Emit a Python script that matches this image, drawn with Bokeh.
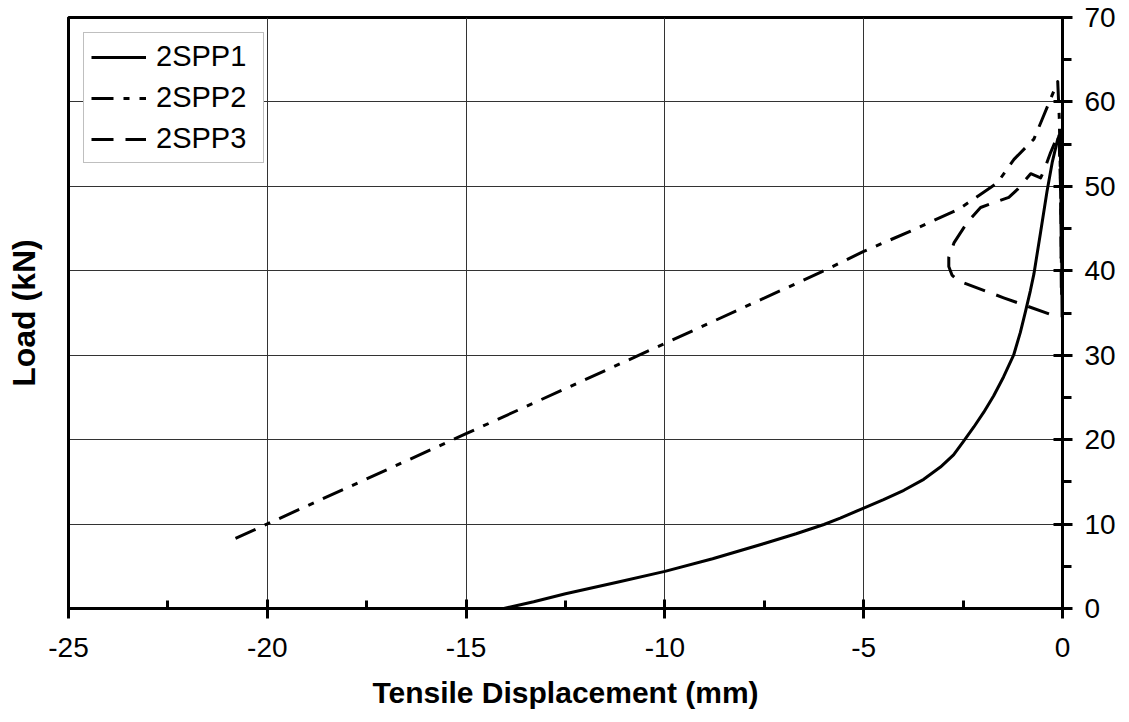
from bokeh.plotting import figure
from bokeh.models import (LinearAxis, FixedTicker, SingleIntervalTicker, Legend,
                          LegendItem, CustomJSTickFormatter)
from bokeh.embed import file_html
from bokeh.resources import INLINE

# Load vs. tensile displacement for the three 2SPP specimens
spp1_disp = [-14.05, -13.3, -12.5, -11.2, -10.0, -8.8, -7.5, -6.7, -6.0, -5.59, -5.0,
             -4.5, -3.99, -3.49, -3.07, -2.74, -2.49, -2.23, -1.98, -1.73, -1.48,
             -1.23, -1.06, -0.93, -0.81, -0.72, -0.55, -0.39, -0.26, -0.12,
             -0.06, -0.04, -0.02, -0.01]
spp1_load = [0.0, 0.8, 1.75, 3.1, 4.4, 5.9, 7.7, 8.85, 9.95, 10.7, 11.9,
             12.9, 14.0, 15.3, 16.75, 18.2, 19.8, 21.5, 23.25, 25.2, 27.45,
             30.0, 32.7, 35.2, 37.6, 39.6, 44.6, 49.4, 52.8, 55.6,
             56.1, 50.0, 42.0, 34.5]

spp2_disp = [-20.8, -15.0, -10.0, -6.09, -5.0, -3.82, -2.61, -1.64, -1.22, -0.72,
             -0.55, -0.12, -0.08, -0.04, -0.02]
spp2_load = [8.3, 20.7, 31.4, 39.8, 42.3, 44.7, 47.3, 50.4, 53.2, 55.6,
             57.5, 62.4, 58.0, 48.0, 36.0]

spp3_disp = [-0.34, -1.48, -2.61, -2.78, -2.86, -2.86, -2.73, -2.40, -2.06, -1.35,
             -1.14, -0.80, -0.55, -0.47, -0.30, -0.13, -0.09, -0.05, -0.03]
spp3_load = [34.9, 36.8, 38.8, 39.5, 40.5, 41.6, 43.3, 45.7, 47.5, 48.7,
             49.6, 51.5, 51.0, 51.8, 54.0, 55.9, 56.3, 50.0, 38.0]

FONT = "Liberation Sans"

p = figure(frame_width=994, frame_height=591, x_range=(-25, 0), y_range=(0, 70),
           y_axis_location="right", output_backend="svg", toolbar_location=None,
           min_border_left=68, min_border_right=67, min_border_top=17,
           min_border_bottom=114, background_fill_color="white",
           border_fill_color="white")

p.outline_line_color = "black"
p.outline_line_width = 3

# grid
p.xgrid.grid_line_color = "#333333"
p.ygrid.grid_line_color = "#333333"
p.xgrid.grid_line_width = 1
p.ygrid.grid_line_width = 1

plain_minus = CustomJSTickFormatter(code="return tick.toString();")

# bottom axis
xax = p.xaxis[0]
xax.ticker = SingleIntervalTicker(interval=5, num_minor_ticks=2)
xax.axis_label = "Tensile Displacement (mm)"
# right axis
yax = p.yaxis[0]
yax.ticker = SingleIntervalTicker(interval=10, num_minor_ticks=2)

for ax in (xax, yax):
    ax.formatter = plain_minus
    ax.axis_line_color = "black"
    ax.axis_line_width = 3
    ax.major_tick_line_color = "black"
    ax.major_tick_line_width = 3
    ax.minor_tick_line_color = "black"
    ax.minor_tick_line_width = 3
    ax.major_tick_in = 9
    ax.major_tick_out = 10
    ax.major_label_text_font = FONT
    ax.major_label_text_font_size = "28px"
    ax.major_label_text_color = "black"
    ax.axis_label_text_font = FONT
    ax.axis_label_text_font_size = "30px"
    ax.axis_label_text_font_style = "bold"
    ax.axis_label_text_color = "black"

xax.minor_tick_in = 8
xax.minor_tick_out = 0
xax.major_label_standoff = 19
xax.axis_label_standoff = 16
yax.minor_tick_in = 0
yax.minor_tick_out = 9
yax.major_label_standoff = 12

# left border carries only the title
lax = LinearAxis(ticker=FixedTicker(ticks=[]), axis_label="Load (kN)",
                 axis_line_color="black", axis_line_width=3,
                 axis_label_text_font=FONT, axis_label_text_font_size="32px",
                 axis_label_text_font_style="bold", axis_label_text_color="black",
                 axis_label_standoff=27, major_tick_line_color=None,
                 minor_tick_line_color=None)
p.add_layout(lax, "left")

r1 = p.line(spp1_disp, spp1_load, line_color="black", line_width=3,
            line_join="round")
r2 = p.line(spp2_disp, spp2_load, line_color="black", line_width=3,
            line_dash="22 10 6 10", line_join="round")
r3 = p.line(spp3_disp, spp3_load, line_color="black", line_width=3,
            line_dash="22 12", line_join="round")

legend = Legend(items=[LegendItem(label="2SPP1", renderers=[r1]),
                       LegendItem(label="2SPP2", renderers=[r2]),
                       LegendItem(label="2SPP3", renderers=[r3])],
                location="top_left", margin=15, padding=7, spacing=8,
                glyph_width=55, glyph_height=30, label_standoff=10,
                label_width=100,
                label_text_font=FONT, label_text_font_size="29px",
                label_text_color="black", border_line_color="#808080",
                border_line_width=1, background_fill_color="white",
                background_fill_alpha=1.0)
p.add_layout(legend)

open("out.html", "w").write(file_html(p, INLINE))
